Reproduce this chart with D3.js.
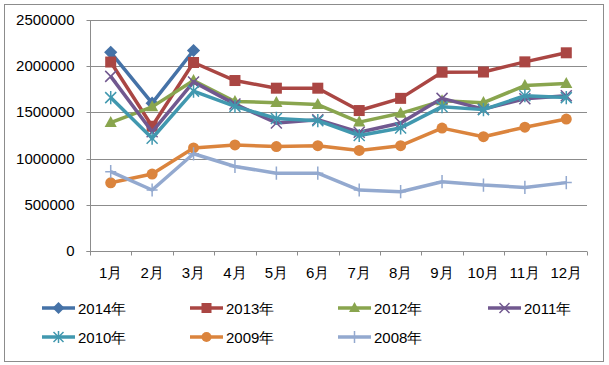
<!DOCTYPE html>
<html><head><meta charset="utf-8">
<script src="https://cdn.jsdelivr.net/npm/d3@7"></script>
<style>body{margin:0;background:#fff}svg{display:block}text{font-family:"Liberation Sans",Arial,sans-serif}</style>
</head><body><svg id="c" width="609" height="365"></svg>
<script>
const months = ["1月","2月","3月","4月","5月","6月","7月","8月","9月","10月","11月","12月"];
const yTicks = [0,500000,1000000,1500000,2000000,2500000];
const s2014 = [2150000,1600000,2170000];
const s2013 = [2045000,1350000,2040000,1845000,1762000,1762000,1520000,1652000,1935000,1937000,2047000,2145000];
const s2012 = [1390000,1560000,1845000,1618000,1605000,1585000,1395000,1490000,1625000,1605000,1790000,1812000];
const s2011 = [1890000,1290000,1830000,1590000,1385000,1420000,1285000,1385000,1652000,1535000,1648000,1680000];
const s2010 = [1660000,1220000,1730000,1565000,1435000,1410000,1250000,1332000,1562000,1530000,1680000,1660000];
const s2009 = [738000,833000,1115000,1148000,1130000,1140000,1088000,1140000,1330000,1237000,1340000,1428000];
const s2008 = [858000,660000,1052000,915000,842000,842000,660000,642000,750000,714000,688000,740000];
const seriesNames = ["2014年","2013年","2012年","2011年","2010年","2009年","2008年"];
const seriesColors = ["#4572A7","#AA4643","#89A54E","#71588F","#4198AF","#DB843D","#93A9CF"];
const seriesMarkers = ["diamond","square","triangle","x","asterisk","circle","plus"];
const seriesData = [s2014,s2013,s2012,s2011,s2010,s2009,s2008];

const svg = d3.select("#c");
svg.append("rect").attr("x",4.5).attr("y",4.5).attr("width",599).attr("height",357)
  .attr("fill","#fff").attr("stroke","#8c8c8c");
const L=90,R=587,T=20,B=251;
const x = d3.scaleBand().domain(months).range([L,R]);
const y = d3.scaleLinear().domain([0,2500000]).range([B,T]);
const g = svg.append("g");
// grid
g.selectAll(".grid").data(yTicks.filter(d=>d>0)).enter().append("line")
  .attr("x1",L).attr("x2",R).attr("y1",d=>Math.round(y(d))+0.5).attr("y2",d=>Math.round(y(d))+0.5)
  .attr("stroke","#8c8c8c").attr("stroke-width",1);
// y axis
const ya = g.append("g").attr("transform",`translate(${L+0.5},0)`)
  .call(d3.axisLeft(y).tickValues(yTicks).tickSize(4).tickPadding(12).tickFormat(d=>String(d)));
ya.select(".domain").attr("stroke","#8c8c8c").attr("d",`M-4,${B+0.5}H0V${T}`);
ya.selectAll(".tick line").attr("stroke","#8c8c8c");
ya.selectAll(".tick").attr("transform",d=>`translate(0,${Math.round(y(d))+0.5})`);
ya.selectAll("text").attr("font-size","15px").attr("fill","#000").attr("font-family","Liberation Sans, Arial, sans-serif");
// x axis
const xa = g.append("g").attr("transform",`translate(0,${B+0.5})`)
  .call(d3.axisBottom(x).tickSize(0).tickPadding(16));
xa.select(".domain").attr("stroke","#8c8c8c").attr("d",`M${L},0H${R}`);
xa.selectAll("text").attr("font-size","15px").attr("fill","#000").attr("font-family","Liberation Sans, Arial, sans-serif");
const bounds = months.map(m=>x(m)).concat([R]);
xa.selectAll(".btick").data(bounds).enter().append("line").attr("class","btick")
  .attr("x1",d=>Math.round(d)+0.5).attr("x2",d=>Math.round(d)+0.5).attr("y1",0).attr("y2",4).attr("stroke","#8c8c8c");

function marker(sel,type,color,sz){
  const s=sz;
  if(type==="diamond") sel.append("path").attr("d",`M0,${-s*0.6}L${s*0.6},0L0,${s*0.6}L${-s*0.6},0Z`).attr("fill",color);
  else if(type==="square") sel.append("rect").attr("x",-s/2).attr("y",-s/2).attr("width",s).attr("height",s).attr("fill",color);
  else if(type==="triangle") sel.append("path").attr("d",`M0,${-s*0.6}L${s*0.55},${s*0.4}L${-s*0.55},${s*0.4}Z`).attr("fill",color);
  else if(type==="circle") sel.append("circle").attr("r",s/2).attr("fill",color);
  else if(type==="x") sel.append("path").attr("d",`M${-s/2},${-s/2}L${s/2},${s/2}M${s/2},${-s/2}L${-s/2},${s/2}`).attr("stroke",color).attr("stroke-width",1.5);
  else if(type==="asterisk") sel.append("path").attr("d",`M${-s/2},${-s/2}L${s/2},${s/2}M${s/2},${-s/2}L${-s/2},${s/2}M0,${-s*0.6}L0,${s*0.6}`).attr("stroke",color).attr("stroke-width",1.5);
  else if(type==="plus") sel.append("path").attr("d",`M0,${-s*0.6}L0,${s*0.6}M${-s/2},0L${s/2},0`).attr("stroke",color).attr("stroke-width",1.5);
}
const line = d3.line().x((d,i)=>x(months[i])+x.bandwidth()/2).y(d=>y(d));
seriesData.forEach((data,k)=>{
  const c=seriesColors[k];
  g.append("path").datum(data).attr("d",line).attr("fill","none").attr("stroke",c).attr("stroke-width",3.5).attr("stroke-linejoin","round");
  data.forEach((v,i)=>{
    const m=g.append("g").attr("transform",`translate(${x(months[i])+x.bandwidth()/2},${y(v)})`);
    marker(m,seriesMarkers[k],c,11);
  });
});
// legend
const lx=[42,190,338,488], ly=[308,337];
seriesNames.forEach((n,k)=>{
  const col=k%4,row=Math.floor(k/4);
  const lg=svg.append("g").attr("transform",`translate(${lx[col]},${ly[row]})`);
  lg.append("line").attr("x1",0).attr("x2",33).attr("y1",0).attr("y2",0).attr("stroke",seriesColors[k]).attr("stroke-width",3.5);
  const m=lg.append("g").attr("transform","translate(16.5,0)");
  marker(m,seriesMarkers[k],seriesColors[k],10);
  lg.append("text").attr("x",36).attr("y",5.5).attr("font-size","15px").attr("fill","#000").text(n);
});
</script></body></html>
